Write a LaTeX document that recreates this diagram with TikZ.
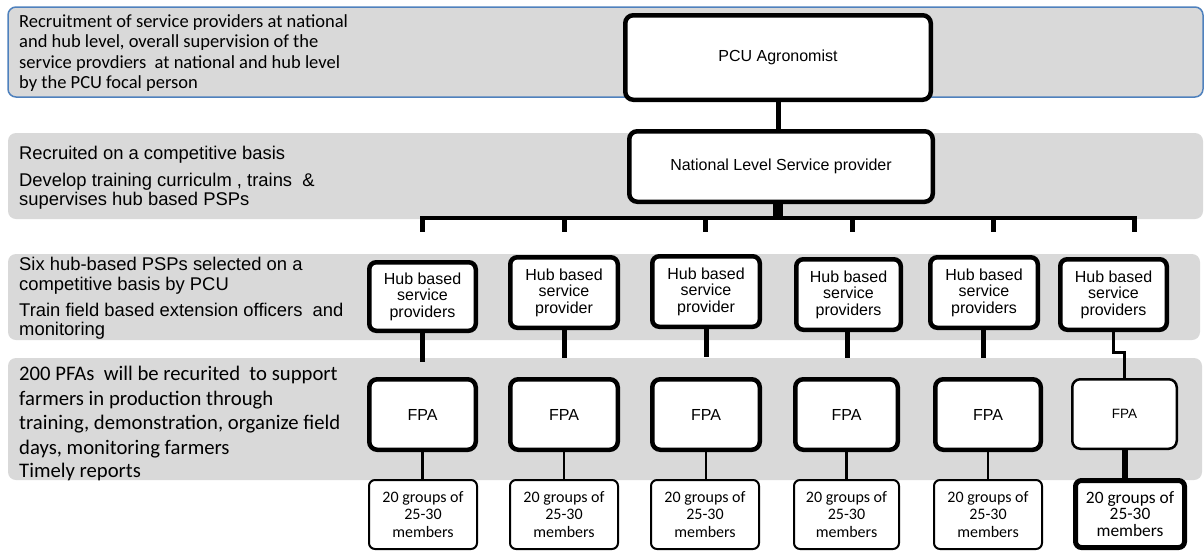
\documentclass[tikz,border=0pt]{standalone}
\usepackage{fontspec}
\setmainfont{Liberation Sans}
\newfontfamily\calibri{Carlito}
\definecolor{bandgray}{RGB}{217,217,217}
\definecolor{bandblue}{RGB}{79,129,189}

\begin{document}
\begin{tikzpicture}[x=1pt,y=-1pt,
  band/.style={fill=bandgray, draw=none, rounded corners=8pt},
  notecal/.style={anchor=base west, inner sep=0pt, font=\calibri\fontsize{18.5}{20}\selectfont},
  notearial/.style={anchor=base west, inner sep=0pt, font=\fontsize{18.4}{20}\selectfont},
  notebig/.style={anchor=base west, inner sep=0pt, font=\calibri\fontsize{20.7}{24}\selectfont},
  unit/.style={draw=black, fill=white, line width=4.5pt, rounded corners=8pt,
    inner sep=0pt, align=center, font=\fontsize{16}{16.5}\selectfont},
  hubbox/.style={unit, rounded corners=7pt},
  groupbox/.style={draw=black, fill=white, line width=2pt, rounded corners=6pt,
    inner sep=0pt, align=center, font=\calibri\fontsize{16}{17.5}\selectfont},
  link/.style={draw=black, line width=5pt},
  thinlink/.style={draw=black, line width=2.5pt}
]
\useasboundingbox (0,0) rectangle (1204,552);

% background bands
\filldraw[band, draw=bandblue, line width=1.5pt] (8,7) rectangle (1203,97);
\fill[band] (8,133) rectangle (1203,219);
\fill[band] (8,254) rectangle (1200,340);
\fill[band] (8,358) rectangle (1202,480);

% band descriptions
\node[notecal] (d1a) at (19,27.5) {Recruitment of service providers at national};
\node[notecal] (d1b) at (19,47.7) {and hub level, overall supervision of the};
\node[notecal] (d1c) at (19,68) {service provdiers~ at national and hub level};
\node[notecal] (d1d) at (19,88) {by the PCU focal person};

\node[notearial] (d2a) at (19,159) {Recruited on a competitive basis};
\node[notearial] (d2b) at (19,186) {Develop training curriculm , trains~ \&};
\node[notearial] (d2c) at (19,205) {supervises hub based PSPs};

\node[notearial] (d3a) at (19,270.7) {Six hub-based PSPs selected on a};
\node[notearial] (d3b) at (19,290.7) {competitive basis by PCU};
\node[notearial] (d3c) at (19,316) {Train field based extension officers~ and};
\node[notearial] (d3d) at (19,335.5) {monitoring};

\node[notebig] (d4a) at (19,380.7) {200 PFAs~ will be recurited~ to support};
\node[notebig] (d4b) at (19,405.2) {farmers in production through};
\node[notebig] (d4c) at (19,429.7) {training, demonstration, organize field};
\node[notebig] (d4d) at (19,454.2) {days, monitoring farmers};
\node[notebig] (d4e) at (19,477.5) {Timely reports};

% top of the hierarchy
\node[unit, minimum width=305.5pt, minimum height=84.5pt] (pcu) at (778,57.5) {PCU Agronomist};
\node[unit, minimum width=303.5pt, minimum height=70.5pt] (nat) at (781,166.5) {National Level Service provider};

% hub based service providers
\node[hubbox, minimum width=106.5pt, minimum height=68.5pt] (hub1) at (422.5,296.5) {Hub based\\service\\providers};
\node[hubbox, minimum width=107.5pt, minimum height=70.5pt] (hub2) at (564,292.5) {Hub based\\service\\provider};
\node[hubbox, minimum width=107.5pt, minimum height=70.5pt] (hub3) at (706,291.5) {Hub based\\service\\provider};
\node[hubbox, minimum width=104.5pt, minimum height=70.5pt] (hub4) at (848.5,294.5) {Hub based\\service\\providers};
\node[hubbox, minimum width=107.5pt, minimum height=70.5pt] (hub5) at (984,292.5) {Hub based\\service\\providers};
\node[hubbox, minimum width=106.5pt, minimum height=70.5pt] (hub6) at (1113.5,294.5) {Hub based\\service\\providers};

% field level agents
\node[unit, minimum width=106.5pt, minimum height=70.5pt] (fpa1) at (422.5,414.5) {FPA};
\node[unit, minimum width=107.5pt, minimum height=70.5pt] (fpa2) at (564,414.5) {FPA};
\node[unit, minimum width=107.5pt, minimum height=70.5pt] (fpa3) at (706,414.5) {FPA};
\node[unit, minimum width=102.5pt, minimum height=70.5pt] (fpa4) at (846.5,414.5) {FPA};
\node[unit, minimum width=105.5pt, minimum height=70.5pt] (fpa5) at (988,414.5) {FPA};
\node[unit, line width=2.5pt, font=\fontsize{13.5}{15}\selectfont,
      minimum width=104.5pt, minimum height=69.5pt] (fpa6) at (1124.5,414) {FPA};

% farmer groups
\node[groupbox, minimum width=108pt, minimum height=69pt] (g1) at (423,514.5) {20 groups of\\25-30\\members};
\node[groupbox, minimum width=108pt, minimum height=69pt] (g2) at (564,514.5) {20 groups of\\25-30\\members};
\node[groupbox, minimum width=108pt, minimum height=69pt] (g3) at (705,514.5) {20 groups of\\25-30\\members};
\node[groupbox, minimum width=105pt, minimum height=69pt] (g4) at (846.5,514.5) {20 groups of\\25-30\\members};
\node[groupbox, minimum width=108pt, minimum height=69pt] (g5) at (988,514.5) {20 groups of\\25-30\\members};
\node[groupbox, line width=5pt, font=\calibri\fontsize{17.4}{16.7}\selectfont,
      minimum width=109pt, minimum height=67pt] (g6) at (1130,514) {20 groups of\\25-30\\members};

% bus below the national provider
\coordinate (busL) at (420,218);
\coordinate (busR) at (1137,218);
\coordinate (tk1) at (422.5,232);
\coordinate (tk2) at (564.5,232);
\coordinate (tk3) at (705.5,232);
\coordinate (tk4) at (852,232);
\coordinate (tk5) at (993,232);
\coordinate (tk6) at (1134.5,232);

\draw[link] (pcu.south) -- (pcu.south |- nat.north);
\draw[draw=black, line width=10pt] (nat.south -| pcu.south) -- (pcu.south |- busL);
\draw[draw=black, line width=4pt] (busL) -- (busR);
\foreach \t in {tk1,tk2,tk3,tk4,tk5,tk6}
  \draw[draw=black, line width=5pt] (\t |- 0,216) -- (\t);

% hubs to field agents
\coordinate (e1) at (422.5,362);
\coordinate (e2) at (564,358);
\coordinate (e3) at (706,357);
\coordinate (e4) at (847,358);
\coordinate (e5) at (983,358);
\coordinate (j6) at (1124.5,352.5);
\draw[link] (hub1.south) -- (hub1.south |- e1);
\draw[link] (hub2.south) -- (hub2.south |- e2);
\draw[link] (hub3.south) -- (hub3.south |- e3);
\draw[link] (e4 |- hub4.south) -- (e4);
\draw[link] (e5 |- hub5.south) -- (e5);
\draw[draw=black, line width=2.7pt] (hub6.south) |- (j6) -- (fpa6.north);

% field agents to groups
\foreach \i in {1,...,5}
  \draw[thinlink] (fpa\i.south) -- (fpa\i.south |- g\i.north);
\draw[draw=black, line width=6pt] (fpa6.south) -- (fpa6.south |- g6.north);
\end{tikzpicture}
\end{document}
